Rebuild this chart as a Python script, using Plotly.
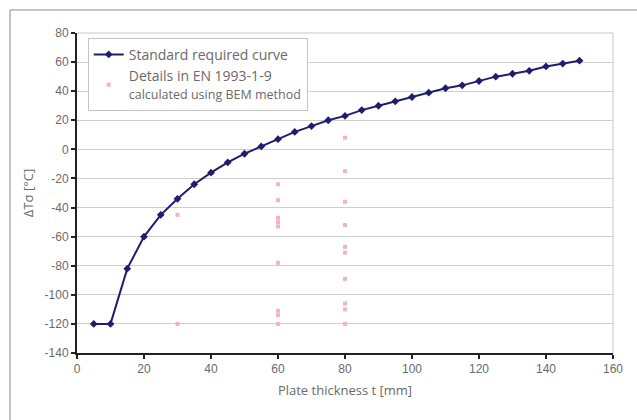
import plotly.graph_objects as go

# Standard required curve
curve_t = [5, 10, 15, 20, 25, 30, 35, 40, 45, 50, 55, 60, 65, 70, 75, 80, 85, 90,
           95, 100, 105, 110, 115, 120, 125, 130, 135, 140, 145, 150]
curve_dT = [-120, -120, -82, -60, -45, -34, -24, -16, -9, -3, 2, 7, 12, 16, 20, 23, 27, 30,
            33, 36, 39, 42, 44, 47, 50, 52, 54, 57, 59, 61]

# Details in EN 1993-1-9 (BEM)
det_t = [30, 30,
         60, 60, 60, 60, 60, 60, 60, 60, 60,
         80, 80, 80, 80, 80, 80, 80, 80, 80, 80]
det_dT = [-45, -120,
          -24, -35, -47, -50, -53, -78, -111, -114, -120,
          8, -15, -36, -52, -67, -71, -89, -106, -110, -120]

x_ticks = [0, 20, 40, 60, 80, 100, 120, 140, 160]
y_ticks = [80, 60, 40, 20, 0, -20, -40, -60, -80, -100, -120, -140]
y_ticktext = [str(v) for v in y_ticks]

navy = "#1f1d6e"
pink = "#f5b3bb"
grey_txt = "#6a6a6a"

fig = go.Figure()
fig.add_trace(go.Scatter(
    x=curve_t, y=curve_dT, mode="lines+markers", name="Standard required curve",
    line=dict(color=navy, width=2), marker=dict(symbol="diamond", size=6, color=navy)))
fig.add_trace(go.Scatter(
    x=det_t, y=det_dT, mode="markers",
    name="Details in EN 1993-1-9<br><span style='font-size:12.5px'>calculated using BEM method</span>",
    marker=dict(symbol="square", size=4, color=pink)))

fig.update_layout(
    width=637, height=420,
    margin=dict(l=77, r=24, t=33, b=67),
    paper_bgcolor="white", plot_bgcolor="white",
    font=dict(family="Open Sans, Liberation Sans, Arial", color=grey_txt, size=12),
    legend=dict(x=0.02, y=0.985, xanchor="left", yanchor="top",
                bgcolor="white", bordercolor="#c4c4c4", borderwidth=1,
                font=dict(size=14, color=grey_txt), itemwidth=30, tracegroupgap=10),
    xaxis=dict(range=[0, 160], tickvals=x_ticks, showgrid=False, zeroline=False,
               showline=True, linecolor="#222", linewidth=2, ticks="outside",
               ticklen=4, tickwidth=2, tickcolor="#222",
               tickfont=dict(family="Liberation Sans, Arial", size=12, color=grey_txt),
               title=dict(text="Plate thickness t [mm]", font=dict(size=13, color=grey_txt),
                          standoff=10)),
    yaxis=dict(range=[-140, 80], tickvals=y_ticks, ticktext=y_ticktext,
               showgrid=True, gridcolor="#cfcfcf", gridwidth=1, zeroline=False,
               showline=True, linecolor="#222", linewidth=2, ticks="outside",
               ticklen=4, tickwidth=2, tickcolor="#222",
               tickfont=dict(family="Liberation Sans, Arial", size=12, color=grey_txt),
               title=dict(text="ΔTσ [°C]", font=dict(size=13, color=grey_txt), standoff=8)),
)

# light frame on top/right of plot area
fig.add_shape(type="line", xref="paper", yref="paper", x0=1, x1=1, y0=0, y1=1,
              line=dict(color="#c8c8c8", width=1))
fig.add_shape(type="line", xref="paper", yref="paper", x0=0, x1=1, y0=1, y1=1,
              line=dict(color="#c8c8c8", width=1))
# outer figure frame (left and top edges only visible)
fig.add_shape(type="line", xref="paper", yref="paper", x0=-0.125, x1=-0.125, y0=-0.4, y1=1.072,
              line=dict(color="#8a8a8a", width=1), layer="below")
fig.add_shape(type="line", xref="paper", yref="paper", x0=-0.125, x1=1.3, y0=1.072, y1=1.072,
              line=dict(color="#8a8a8a", width=1), layer="below")

fig.write_html("out.html")
